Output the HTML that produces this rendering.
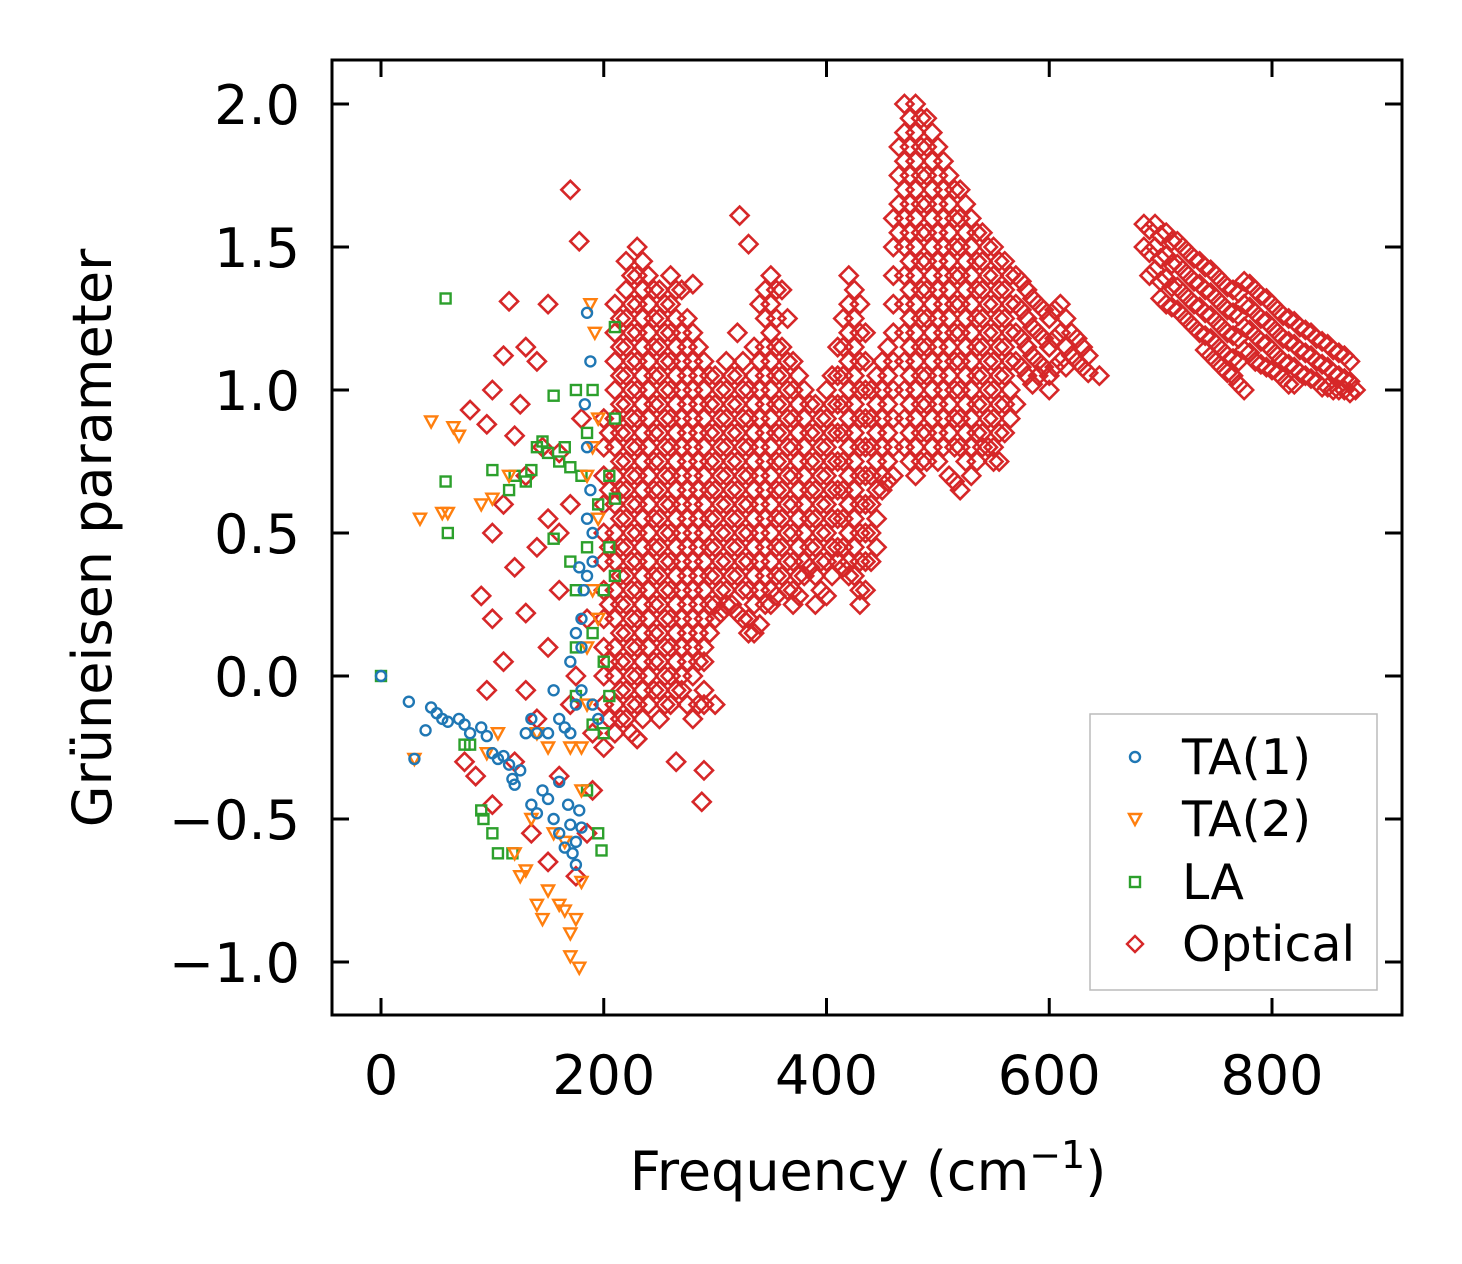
<!DOCTYPE html>
<html><head><meta charset="utf-8"><style>
html,body{margin:0;padding:0;background:#fff;}
svg{display:block;font-family:"DejaVu Sans","Liberation Sans",sans-serif;}
</style></head><body>
<svg id="chart" width="1462" height="1264" viewBox="0 0 1462 1264" xmlns="http://www.w3.org/2000/svg">
<rect x="0" y="0" width="1462" height="1264" fill="#fff"/>
<g id="marks"></g>
<g id="axes"></g>
<text x="868" y="1190" font-size="54" text-anchor="middle">Frequency (cm<tspan dy="-22" font-size="38">−1</tspan><tspan dy="22">)</tspan></text>
<text transform="translate(111,538) rotate(-90)" font-size="54" text-anchor="middle">Grüneisen parameter</text>
<g>
<rect x="1090" y="714" width="287" height="276" fill="#fff" fill-opacity="0.8" stroke="#bbb" stroke-width="1.5"/>
<circle cx="1135" cy="757" r="5" fill="none" stroke="#1f77b4" stroke-width="2.4"/>
<text x="1182" y="774" font-size="49">TA(1)</text>
<path d="M1129,814 L1141,814 L1135,825 Z" fill="none" stroke="#ff7f0e" stroke-width="2.4"/>
<text x="1182" y="836" font-size="49">TA(2)</text>
<rect x="1130" y="877" width="10" height="10" fill="none" stroke="#2ca02c" stroke-width="2.4"/>
<text x="1182" y="899" font-size="49">LA</text>
<path d="M1135,936 L1143,944 L1135,952 L1127,944 Z" fill="none" stroke="#d62728" stroke-width="2.4"/>
<text x="1182" y="961" font-size="49">Optical</text>
</g>
</svg>
<script>
const xTicks=[0,200,400,600,800];
const yTicks=[-1.0,-0.5,0.0,0.5,1.0,1.5,2.0];
const yTickLabels=["−1.0","−0.5","0.0","0.5","1.0","1.5","2.0"];
const ta1=[[0,0],[25,-0.09],[30,-0.29],[40,-0.19],[45,-0.11],[50,-0.13],[55,-0.15],[60,-0.16],[70,-0.15],[75,-0.17],[80,-0.2],[90,-0.18],[95,-0.21],[100,-0.27],[105,-0.29],[110,-0.28],[115,-0.31],[118,-0.36],[120,-0.38],[125,-0.33],[130,-0.2],[135,-0.15],[135,-0.45],[140,-0.48],[145,-0.4],[150,-0.43],[155,-0.05],[155,-0.5],[160,-0.55],[160,-0.37],[165,-0.6],[168,-0.45],[170,-0.52],[172,-0.62],[175,-0.58],[178,-0.47],[180,-0.53],[175,-0.66],[170,-0.2],[175,-0.1],[180,0.1],[180,0.2],[182,0.3],[178,0.38],[185,0.35],[190,0.4],[185,0.55],[188,0.65],[185,0.8],[188,1.1],[185,1.27],[183,0.95],[190,0.5],[175,0.15],[170,0.05],[180,-0.05],[190,-0.1],[195,-0.15],[160,-0.15],[150,-0.2],[140,-0.2],[165,-0.18]];
const ta2=[[30,-0.29],[35,0.55],[45,0.89],[55,0.57],[60,0.57],[65,0.87],[70,0.84],[90,0.6],[100,0.62],[95,-0.27],[105,-0.2],[115,0.7],[120,-0.62],[125,-0.7],[130,-0.68],[135,-0.5],[140,-0.8],[145,-0.85],[150,-0.75],[155,-0.55],[160,-0.8],[165,-0.82],[170,-0.9],[175,-0.85],[178,-1.02],[180,-0.72],[170,-0.98],[165,-0.58],[180,-0.4],[185,-0.1],[185,0.1],[190,0.3],[195,0.55],[190,0.8],[188,1.3],[192,1.2],[195,0.9],[150,-0.25],[140,-0.2],[185,0.7],[195,0.2],[180,-0.25],[170,-0.25]];
const la=[[0,0],[58,1.32],[58,0.68],[60,0.5],[75,-0.24],[80,-0.24],[90,-0.47],[92,-0.5],[100,-0.55],[105,-0.62],[100,0.72],[115,0.65],[118,-0.62],[120,0.7],[130,0.68],[135,0.72],[140,0.8],[145,0.82],[150,0.78],[155,0.98],[160,0.75],[165,0.8],[170,0.73],[175,1.0],[180,0.7],[185,0.85],[190,1.0],[210,1.22],[205,0.7],[210,0.9],[210,0.62],[205,0.45],[210,0.35],[200,0.3],[175,0.3],[175,0.1],[190,0.15],[200,0.05],[205,-0.07],[175,-0.07],[190,-0.17],[200,-0.2],[185,-0.4],[195,-0.55],[198,-0.61],[155,0.48],[170,0.4],[195,0.6],[185,0.45]];
const opticalScatter=[[170,1.70],[178,1.52],[115,1.31],[150,1.3],[130,1.15],[110,1.12],[140,1.1],[100,1.0],[125,0.95],[80,0.93],[95,0.88],[120,0.84],[145,0.8],[160,0.78],[130,0.7],[110,0.6],[150,0.55],[100,0.5],[140,0.45],[120,0.38],[90,0.28],[130,0.22],[100,0.2],[160,0.3],[150,0.1],[110,0.05],[130,-0.05],[170,-0.1],[95,-0.05],[140,-0.15],[75,-0.3],[85,-0.35],[120,-0.3],[160,-0.35],[100,-0.45],[135,-0.55],[150,-0.65],[175,-0.7],[185,-0.55],[190,-0.4],[170,0.6],[180,0.9],[160,0.5],[185,0.2],[175,0.0],[190,-0.2],[322,1.61],[265,-0.3],[290,-0.33],[288,-0.44],[230,-0.22],[290,-0.05],[300,-0.1],[280,1.37],[330,1.51]];
const opticalFreq=[200,210,220,230,240,250,260,270,280,290,300,310,320,330,340,350,360,370,380,390,400,410,420,430,440,450,460,465,470,480,490,500,510,520,530,540,550,560,570,580,590,600,610,620,630,645,685,695,705,715,725,735,745,755,765,775,785,795,805,815,825,835,845,855,865,875];
const opticalGamma=[
[0.9,0.8,0.7,0.6,0.5,0.4,0.3,0.2,0.1,0,-0.1,-0.25],
[1.3,1.2,1.1,1.0,0.9,0.8,0.7,0.6,0.5,0.4,0.3,0.2,0.1,0.0,-0.1,-0.2],
[1.45,1.35,1.25,1.15,1.05,0.95,0.85,0.75,0.65,0.55,0.45,0.35,0.25,0.15,0.05,-0.05,-0.15],
[1.5,1.4,1.3,1.2,1.1,1.0,0.9,0.8,0.7,0.6,0.5,0.4,0.3,0.2,0.1,0.0,-0.1,-0.22],
[1.4,1.3,1.2,1.1,1.0,0.9,0.8,0.7,0.6,0.5,0.4,0.3,0.2,0.1,0.0,-0.1],
[1.35,1.25,1.15,1.05,0.95,0.85,0.75,0.65,0.55,0.45,0.35,0.25,0.15,0.05,-0.05,-0.15],
[1.4,1.3,1.2,1.1,1.0,0.9,0.8,0.7,0.6,0.5,0.4,0.3,0.2,0.1,0.0,-0.1],
[1.35,1.2,1.1,1.0,0.9,0.8,0.7,0.6,0.5,0.4,0.3,0.2,0.1,0.0,-0.05],
[1.2,1.1,1.0,0.9,0.8,0.7,0.6,0.5,0.4,0.3,0.2,0.1,0.0,-0.15],
[1.1,1.0,0.9,0.8,0.7,0.6,0.5,0.4,0.3,0.2,0.1,0.05,-0.1],
[1.05,0.95,0.85,0.75,0.65,0.55,0.45,0.35,0.25,0.2],
[1.1,1.0,0.9,0.8,0.7,0.6,0.5,0.4,0.3,0.25],
[1.2,1.05,0.95,0.85,0.75,0.65,0.55,0.45,0.35,0.22],
[1.0,0.9,0.8,0.7,0.6,0.5,0.4,0.3,0.2,0.15],
[1.3,1.1,1.0,0.9,0.8,0.7,0.6,0.5,0.4,0.3,0.18],
[1.4,1.3,1.2,1.1,1.0,0.9,0.8,0.7,0.6,0.5,0.4,0.3,0.25],
[1.35,1.15,1.05,0.95,0.85,0.75,0.65,0.55,0.45,0.35],
[1.1,1.0,0.9,0.8,0.7,0.6,0.5,0.4,0.3,0.25],
[1.0,0.9,0.8,0.7,0.6,0.5,0.4,0.35],
[0.95,0.85,0.75,0.65,0.55,0.45,0.35,0.25],
[1.0,0.9,0.8,0.7,0.6,0.5,0.4,0.28],
[1.15,1.05,0.95,0.85,0.75,0.65,0.55,0.45,0.4],
[1.4,1.3,1.2,1.1,1.0,0.9,0.8,0.7,0.6,0.5,0.4,0.35],
[1.3,1.2,1.1,1.0,0.9,0.8,0.7,0.6,0.5,0.4,0.3,0.25],
[1.0,0.9,0.8,0.7,0.6,0.5,0.4],
[1.1,1.0,0.9,0.8,0.7,0.65],
[1.6,1.5,1.4,1.3,1.2,1.1,1.0,0.9,0.8,0.7],
[1.85,1.75,1.65,1.55],
[2.0,1.9,1.8,1.7,1.6,1.5,1.4,1.3,1.2,1.1,1.0,0.9,0.8],
[2.0,1.9,1.8,1.7,1.6,1.5,1.4,1.3,1.2,1.1,1.0,0.9,0.8,0.7],
[1.95,1.85,1.75,1.65,1.55,1.45,1.35,1.25,1.15,1.05,0.95,0.85,0.75],
[1.85,1.75,1.65,1.55,1.45,1.35,1.25,1.15,1.05,0.95,0.85,0.75],
[1.75,1.65,1.55,1.45,1.35,1.25,1.15,1.05,0.95,0.85,0.7],
[1.7,1.6,1.5,1.4,1.3,1.2,1.1,1.0,0.9,0.8,0.65],
[1.6,1.5,1.4,1.3,1.2,1.1,1.0,0.9,0.8,0.7],
[1.55,1.45,1.35,1.25,1.15,1.05,0.95,0.85,0.8],
[1.5,1.4,1.3,1.2,1.1,1.0,0.9,0.8,0.75],
[1.45,1.35,1.25,1.15,1.05,0.95,0.85],
[1.4,1.3,1.2,1.1,0.95],
[1.35,1.25,1.15,1.05],
[1.3,1.2,1.1,1.05],
[1.25,1.15,1.05,1.0],
[1.3,1.2,1.1],
[1.2,1.12],
[1.15,1.08],
[1.05],
[1.58,1.5],
[1.58,1.5,1.42],
[1.55,1.47,1.39,1.3],
[1.52,1.44,1.36,1.28],
[1.48,1.4,1.32,1.24],
[1.45,1.37,1.29,1.2],
[1.42,1.34,1.26,1.18,1.12],
[1.38,1.3,1.22,1.14,1.08],
[1.35,1.27,1.19,1.11,1.05],
[1.38,1.3,1.22,1.14,1.0],
[1.35,1.27,1.19,1.1],
[1.32,1.24,1.16,1.08],
[1.28,1.2,1.12,1.06],
[1.25,1.17,1.09,1.02],
[1.22,1.14,1.06],
[1.2,1.12,1.04],
[1.17,1.09,1.01],
[1.14,1.06,1.0],
[1.12,1.04,1.0],
[1.0]
];
const opticalFreqB=[205,215,225,235,245,255,265,275,285,295,305,315,325,335,345,355,365,375,385,395,405,415,425,435,445,455,475,485,495,505,515,525,535,545,555,565,575,585,595,605,615,625,635,690,700,710,720,730,740,750,760,770,780,790,800,810,820,830,840,850,860,870];
const opticalGammaB=[
[0.85,0.65,0.45,0.25,0.05,-0.15],
[1.25,1.15,1.05,0.95,0.85,0.75,0.65,0.55,0.45,0.35,0.25,0.15,0.05,-0.05,-0.15],
[1.4,1.3,1.2,1.1,1.0,0.9,0.8,0.7,0.6,0.5,0.4,0.3,0.2,0.1,0.0,-0.1,-0.2],
[1.45,1.35,1.25,1.15,1.05,0.95,0.85,0.75,0.65,0.55,0.45,0.35,0.25,0.15,0.05,-0.05,-0.15],
[1.35,1.25,1.15,1.05,0.95,0.85,0.75,0.65,0.55,0.45,0.35,0.25,0.15,0.05,-0.05],
[1.3,1.2,1.1,1.0,0.9,0.8,0.7,0.6,0.5,0.4,0.3,0.2,0.1,0.0,-0.1],
[1.35,1.25,1.15,1.05,0.95,0.85,0.75,0.65,0.55,0.45,0.35,0.25,0.15,0.05,-0.05],
[1.25,1.15,1.05,0.95,0.85,0.75,0.65,0.55,0.45,0.35,0.25,0.15,0.05,-0.1],
[1.15,1.05,0.95,0.85,0.75,0.65,0.55,0.45,0.35,0.25,0.15,0.05,-0.1],
[1.05,0.95,0.85,0.75,0.65,0.55,0.45,0.35,0.25,0.15],
[1.0,0.9,0.8,0.7,0.6,0.5,0.4,0.3,0.22],
[1.05,0.95,0.85,0.75,0.65,0.55,0.45,0.35,0.25],
[1.1,1.0,0.9,0.8,0.7,0.6,0.5,0.4,0.3,0.2],
[1.15,1.05,0.95,0.85,0.75,0.65,0.55,0.45,0.35,0.25,0.15],
[1.35,1.25,1.15,1.05,0.95,0.85,0.75,0.65,0.55,0.45,0.35,0.25],
[1.35,1.25,1.15,1.05,0.95,0.85,0.75,0.65,0.55,0.45,0.35,0.28],
[1.25,1.1,1.0,0.9,0.8,0.7,0.6,0.5,0.4,0.3],
[1.05,0.95,0.85,0.75,0.65,0.55,0.45,0.35,0.28],
[0.95,0.85,0.75,0.65,0.55,0.45,0.38],
[0.9,0.8,0.7,0.6,0.5,0.4,0.3],
[1.05,0.95,0.85,0.75,0.65,0.55,0.45,0.35],
[1.25,1.15,1.05,0.95,0.85,0.75,0.65,0.55,0.45,0.38],
[1.35,1.25,1.15,1.05,0.95,0.85,0.75,0.65,0.55,0.45,0.35],
[1.2,1.1,1.0,0.9,0.8,0.7,0.6,0.5,0.4,0.3],
[1.05,0.95,0.85,0.75,0.65,0.55,0.45],
[1.15,1.05,0.95,0.85,0.75,0.68],
[1.95,1.85,1.75,1.65,1.55,1.45,1.35,1.25,1.15,1.05,0.95,0.85,0.75],
[1.95,1.85,1.75,1.65,1.55,1.45,1.35,1.25,1.15,1.05,0.95,0.85,0.75],
[1.9,1.8,1.7,1.6,1.5,1.4,1.3,1.2,1.1,1.0,0.9,0.8],
[1.8,1.7,1.6,1.5,1.4,1.3,1.2,1.1,1.0,0.9,0.8],
[1.7,1.6,1.5,1.4,1.3,1.2,1.1,1.0,0.9,0.8,0.68],
[1.65,1.55,1.45,1.35,1.25,1.15,1.05,0.95,0.85,0.75],
[1.55,1.45,1.35,1.25,1.15,1.05,0.95,0.85,0.75],
[1.5,1.4,1.3,1.2,1.1,1.0,0.9,0.8],
[1.45,1.35,1.25,1.15,1.05,0.95,0.85,0.75],
[1.4,1.3,1.2,1.1,1.0,0.9],
[1.38,1.28,1.18,1.08],
[1.32,1.22,1.12,1.02],
[1.28,1.18,1.08],
[1.28,1.18,1.08],
[1.25,1.15,1.08],
[1.18,1.1],
[1.12,1.06],
[1.56,1.48,1.4],
[1.54,1.46,1.38,1.32],
[1.52,1.44,1.36,1.29],
[1.5,1.42,1.34,1.26],
[1.46,1.38,1.3,1.22],
[1.43,1.35,1.27,1.19,1.14],
[1.4,1.32,1.24,1.16,1.1],
[1.36,1.28,1.2,1.12,1.06],
[1.34,1.26,1.18,1.1,1.02],
[1.37,1.29,1.21,1.13],
[1.33,1.25,1.17,1.09],
[1.3,1.22,1.14,1.07],
[1.26,1.18,1.1,1.04],
[1.24,1.16,1.08,1.02],
[1.21,1.13,1.05],
[1.18,1.1,1.03],
[1.16,1.08,1.01],
[1.13,1.05,1.0],
[1.1,1.03,0.99]
];
const X0=332,X1=1402,Y0=60,Y1=1015;
function sx(v){return 381+v*(1272-381)/800;}
function sy(v){return 676-v*286;}
const NS="http://www.w3.org/2000/svg";
const marks=document.getElementById('marks');
const axes=document.getElementById('axes');
function mk(tag,attrs,parent){const e=document.createElementNS(NS,tag);for(const k in attrs)e.setAttribute(k,attrs[k]);parent.appendChild(e);return e;}
function diamond(x,y){
  const e=mk('path',{d:`M${sx(x)},${sy(y)-9}L${sx(x)+9},${sy(y)}L${sx(x)},${sy(y)+9}L${sx(x)-9},${sy(y)}Z`,fill:'none',stroke:'#d62728','stroke-width':2.6},marks);
  
  
}
opticalScatter.forEach(p=>diamond(p[0],p[1]));
opticalFreq.forEach((f,i)=>opticalGamma[i].forEach(g=>diamond(f,g)));
opticalFreqB.forEach((f,i)=>opticalGammaB[i].forEach(g=>diamond(f,g)));
la.forEach(p=>{
  const e=mk('rect',{x:sx(p[0])-5,y:sy(p[1])-5,width:10,height:10,fill:'none',stroke:'#2ca02c','stroke-width':2.4},marks);
  
  
});
ta2.forEach(p=>{
  const x=sx(p[0]),y=sy(p[1]);
  const e=mk('path',{d:`M${x-6},${y-5}L${x+6},${y-5}L${x},${y+6}Z`,fill:'none',stroke:'#ff7f0e','stroke-width':2.4},marks);
  
  
});
ta1.forEach(p=>{
  const e=mk('circle',{cx:sx(p[0]),cy:sy(p[1]),r:5,fill:'none',stroke:'#1f77b4','stroke-width':2.4},marks);
  
  
});
const frame=mk('rect',{x:X0,y:Y0,width:X1-X0,height:Y1-Y0,fill:'none',stroke:'#000','stroke-width':3},axes);


xTicks.forEach(t=>{
  const x=sx(t);
  const a=mk('line',{x1:x,x2:x,y1:Y1,y2:Y1-17,stroke:'#000','stroke-width':3},axes);
  
  
  const b=mk('line',{x1:x,x2:x,y1:Y0,y2:Y0+17,stroke:'#000','stroke-width':3},axes);
  
  
  const l=mk('text',{x:x,y:1094,'font-size':54,'text-anchor':'middle'},axes);
  l.textContent=String(t);
  
  
});
yTicks.forEach((t,i)=>{
  const y=sy(t);
  const a=mk('line',{x1:X0,x2:X0+17,y1:y,y2:y,stroke:'#000','stroke-width':3},axes);
  
  
  const b=mk('line',{x1:X1,x2:X1-17,y1:y,y2:y,stroke:'#000','stroke-width':3},axes);
  
  
  const l=mk('text',{x:300,y:y+20,'font-size':54,'text-anchor':'end'},axes);
  l.textContent=yTickLabels[i];
  
  
});
</script>
</body></html>
